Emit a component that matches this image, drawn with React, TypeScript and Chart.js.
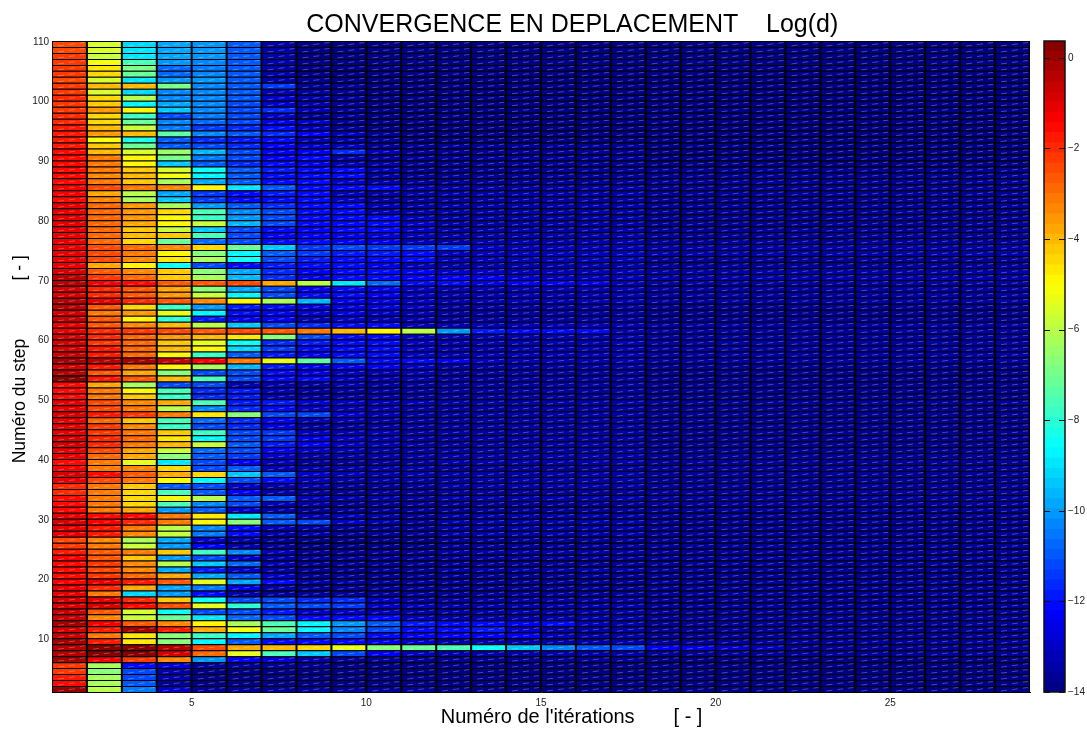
import React, { useEffect, useRef } from "react";
import { Chart, registerables } from "chart.js";

Chart.register(...registerables);

const titleText = "         CONVERGENCE EN DEPLACEMENT    Log(d)";
const xTitleText = "           Numéro de l'itérations       [ - ]";
const yTitleText = "   Numéro du step            [ - ]";
const xTickValues = [5, 10, 15, 20, 25];
const yTickValues = [10, 20, 30, 40, 50, 60, 70, 80, 90, 100, 110];
const colorTickValues = [-14, -12, -10, -8, -6, -4, -2, 0];
const iterationCount = 28;
const colorMin = -14;
const colorMax = 0.37;

// log10(d) per step, iterations 1..11
const stepsA = [
  [0, -6.1, -10.6, -13, -13.6, -13.6, -13.6, -13.6, -13.7, -13.7, -13.7],
  [-1.6, -6.2, -10.9, -13.6, -13.8, -13.8, -13.8, -13.8, -13.8, -13.8, -13.8],
  [-1.7, -6.3, -11.1, -13.5, -13.8, -13.8, -13.8, -13.8, -13.8, -13.8, -13.8],
  [-2.2, -6.8, -11.2, -13.5, -13.8, -13.8, -13.8, -13.8, -13.8, -13.8, -13.8],
  [-2.2, -6.3, -12.2, -12.8, -13.7, -13.7, -13.7, -13.7, -13.8, -13.8, -13.8],
  [-0.3, -1.4, -2.3, -3.4, -10.1, -12.3, -12.8, -13.5, -13.6, -13.6, -13.7],
  [-0.4, 0.3, 0.3, -0.8, -2.8, -5.4, -7.5, -9.4, -11.2, -12.4, -13.2],
  [-0.4, 0.3, 0.3, -0.4, -2.4, -3.7, -3.9, -4.4, -5.4, -6.8, -7.2],
  [-0.3, -1.8, -4.7, -6.6, -8.7, -11, -12.2, -12.2, -12.2, -12.5, -13],
  [-0.6, -3, -4.6, -6.6, -7.8, -8.8, -9.9, -10.9, -11.2, -12.2, -12.3],
  [-0.9, -1.8, -0.3, -1.8, -3.7, -5.2, -7.1, -8.7, -10.2, -11.2, -12],
  [-0.2, -1.4, -2.7, -3.4, -5, -6.3, -7.5, -8.7, -10.1, -10.9, -11.9],
  [-0.6, -3.4, -5.7, -7.2, -9, -10.7, -11.3, -12.2, -12.2, -12.2, -13.3],
  [-0.6, -2.7, -5.6, -8.6, -11.3, -11.3, -11.8, -13, -13, -13.3, -13.4],
  [-0.8, -0.8, -1.6, -2.5, -5.4, -8, -10.9, -11.3, -11.5, -13, -13.3],
  [-0.9, -1, -2, -4.2, -8.6, -11.1, -11.3, -11.6, -11.6, -13, -13.4],
  [-1, -3.2, -9.2, -10.1, -12.2, -13.4, -13.6, -13.6, -13.6, -13.6, -13.6],
  [-1, -1.9, -3.7, -9.8, -10.5, -12.6, -13.4, -13.6, -13.6, -13.6, -13.6],
  [-1.3, -1.1, -1.7, -2.7, -5.4, -9.8, -12.2, -13.4, -13.5, -13.6, -13.6],
  [-1.6, -2.1, -2.9, -3.7, -9.8, -10.9, -13.1, -13.7, -13.7, -13.7, -13.7],
  [-1.5, -2.4, -3.4, -9.8, -11.8, -13, -13.4, -13.7, -13.7, -13.7, -13.7],
  [-1.5, -2.3, -3.4, -6.1, -9.4, -10.7, -13.2, -13.7, -13.7, -13.7, -13.7],
  [-1.4, -2.6, -4.2, -10.1, -11.3, -13, -13.5, -13.7, -13.7, -13.7, -13.7],
  [-1.7, -2.6, -3, -4.2, -7.9, -10.4, -13.2, -13.7, -13.7, -13.7, -13.7],
  [-2.2, -3.2, -5.7, -10.1, -12.4, -13.5, -13.7, -13.8, -13.8, -13.8, -13.8],
  [-2.4, -3.4, -6.3, -9.8, -13, -13.5, -13.7, -13.8, -13.8, -13.8, -13.8],
  [-1, -1.8, -3.3, -5.7, -10.5, -12.2, -13.5, -13.5, -13.6, -13.7, -13.7],
];
const stepsB = [
  [-1, -1.7, -3, -6, -10.4, -12.2, -13.3, -13.4, -13.6, -13.7, -13.7],
  [-0.8, -1.4, -1.9, -3.2, -5, -6.8, -10.9, -11.3, -13, -13.5, -13.6],
  [-1, -1.5, -1.6, -3, -4.6, -9, -10.9, -13.2, -13.2, -13.5, -13.6],
  [-1.5, -3, -3.7, -10.1, -10.9, -13, -13.5, -13.7, -13.7, -13.7, -13.7],
  [-1.6, -3.1, -4.5, -7.5, -10.2, -11.3, -13.3, -13.5, -13.6, -13.7, -13.7],
  [-1.6, -3.2, -4.5, -4.8, -6.1, -10.9, -10.9, -13.2, -13.4, -13.5, -13.6],
  [-2, -3.2, -4.5, -7.7, -10.9, -12.4, -13.4, -13.6, -13.6, -13.6, -13.6],
  [-1.9, -3, -4.3, -10.9, -11.1, -13, -13.4, -13.5, -13.6, -13.6, -13.6],
  [-1, -2.4, -3.1, -5.2, -8.7, -11.3, -12.2, -13.2, -13.4, -13.5, -13.5],
  [-0.8, -1.5, -2.7, -3.7, -4.5, -9.4, -11, -13, -13.3, -13.4, -13.5],
  [-1.4, -3, -3.4, -4.5, -11.1, -11, -13.2, -13.4, -13.5, -13.5, -13.5],
  [-1.5, -3.2, -5.4, -9, -11.1, -12.4, -13.2, -13.6, -13.6, -13.6, -13.6],
  [-1.2, -2.8, -3.7, -6.8, -10.9, -11.5, -13, -13.4, -13.5, -13.5, -13.5],
  [-1, -2.5, -3.7, -5.7, -10.7, -11.2, -12.4, -13, -13.3, -13.4, -13.5],
  [-0.9, -2, -3, -3.9, -5.7, -11, -11.8, -12.3, -13, -13.3, -13.4],
  [-0.9, -2, -2.9, -4.7, -8.7, -11.2, -11.4, -12.6, -13, -13.3, -13.4],
  [-1.1, -2.1, -3, -4.3, -7.9, -11.2, -11.5, -13, -13.2, -13.3, -13.4],
  [-1.2, -2.3, -3.3, -7.9, -11.1, -11.6, -12.6, -13.4, -13.4, -13.4, -13.5],
  [-1.1, -2.9, -4.3, -7.7, -10.7, -11.6, -12.4, -13.2, -13.3, -13.4, -13.5],
  [-0.8, -1.7, -2.3, -3, -4.7, -6.8, -11.3, -11.3, -12.8, -13.2, -13.4],
  [-1.1, -2.5, -3.2, -6, -10.4, -11.6, -12.2, -13, -13.2, -13.3, -13.4],
  [-1.2, -2.5, -3.4, -3.8, -7.7, -11.8, -11.8, -12.8, -13, -13.2, -13.3],
  [-1.5, -3, -4.2, -7.9, -11.6, -11.8, -13.2, -13.5, -13.5, -13.5, -13.5],
  [-1.5, -3.2, -5, -7.7, -11.6, -11.8, -13.2, -13.5, -13.5, -13.5, -13.5],
  [-1.6, -3.7, -6.2, -11.3, -11.3, -13.2, -13.2, -13.5, -13.2, -13.4, -13.4],
  [0.2, -1.8, -2.7, -3.9, -7.5, -11.3, -12.2, -12.2, -13, -13.2, -13.3],
  [-0.5, -2.6, -3.7, -6.6, -11.1, -11.3, -12.2, -12.6, -13, -13.2, -13.3],
];
const stepsC = [
  [-0.8, -1.7, -3.2, -4.8, -6.2, -9.6, -11.8, -12.4, -12.3, -12.3, -13],
  [-0.3, -0.4, -0.2, -0.7, -1.4, -3.1, -5.3, -7.3, -10.9, -12.2, -12.2],
  [-0.7, -1.7, -2.8, -5, -7.9, -10.9, -11.8, -12.4, -12.2, -12.1, -13],
  [-0.8, -1.8, -2.9, -3.9, -5, -9.2, -11.5, -12.2, -12.2, -12.1, -13],
  [-0.8, -2.1, -2.8, -4.2, -5.4, -8.6, -11.6, -11.8, -12.1, -12.1, -13],
  [-0.9, -2, -2.8, -3.6, -3.9, -4.7, -6.8, -11.1, -12, -12, -13],
  [-1, -2, -2.2, -2.5, -2.7, -2.5, -2.6, -3, -4, -5, -6],
  [-1, -2.7, -3.4, -3.9, -6.1, -9.5, -11.3, -11.6, -12.2, -12.2, -13.2],
  [-0.7, -2.7, -5, -8, -11.8, -12.4, -12.3, -13.2, -13, -13.2, -13.3],
  [-0.8, -3, -3.6, -5.3, -8.8, -12.2, -12.4, -12.7, -12.5, -13, -13.2],
  [-0.4, -2.6, -4.5, -7.9, -10.1, -11.8, -12.2, -12.6, -12.5, -12.6, -13],
  [-0.5, -1.2, -1.9, -2.7, -3.4, -4.8, -6.3, -9.6, -12.4, -12.5, -13],
  [-0.8, -1.9, -2.6, -3.6, -5.7, -8.8, -11.1, -12.2, -12.2, -12.4, -13],
  [-0.9, -1.9, -2.7, -3.7, -6.6, -9.8, -11.3, -12.3, -12.2, -12.3, -13],
  [-0.4, -1.4, -1.5, -2.7, -2.6, -2.5, -3.7, -6.1, -9, -10.7, -12.2],
  [-0.5, -2.2, -2.9, -4.2, -6.3, -9.6, -11.6, -12.5, -12.2, -12.2, -12.3],
  [-0.9, -2.6, -3.3, -4.2, -6.6, -9.8, -11.6, -12.4, -12.2, -12.2, -12.4],
  [-1.1, -3.7, -5, -8.6, -11.3, -12.2, -11.8, -12.2, -12.2, -12.6, -13.2],
  [-1, -2.4, -3.3, -4.7, -6.3, -8.6, -11.3, -11.8, -12, -12.2, -12],
  [-1, -2.5, -3.2, -4.8, -6.6, -8.8, -10.9, -11.4, -11.8, -11.9, -12],
  [-1, -2.5, -2.9, -3.4, -4.4, -7.2, -9.3, -11.4, -11.3, -11.4, -11.4],
  [-1.2, -2.9, -4.5, -7.2, -10.7, -11.3, -12.2, -12.2, -12.3, -12.5, -13.2],
  [-1.2, -2.8, -4, -4.3, -7.7, -11.3, -12.3, -12.3, -12.5, -12.8, -13.3],
  [-1.2, -2.9, -4.3, -5.9, -9.4, -11.3, -12.2, -12.4, -12.2, -12.2, -13],
  [-1, -2.9, -3.8, -5, -5.9, -9.6, -11.2, -12.2, -12, -12, -13],
  [-1, -2.8, -3.6, -5, -7.9, -10.1, -11.1, -12.2, -12, -12.1, -13.2],
  [-1.1, -2.8, -3.6, -4.4, -7.5, -10.4, -11.3, -12.1, -12.2, -13.2, -13.4],
];
const stepsD = [
  [-1.2, -2.9, -3.6, -6.3, -10, -11, -11.6, -12.1, -12.2, -13.3, -13.4],
  [-1.5, -3.4, -6.3, -9.3, -11.4, -12.2, -12, -12.1, -13, -13.4, -13.5],
  [-1.4, -3.8, -6, -9.8, -11.5, -12.1, -11.8, -12.1, -13.2, -13.4, -13.5],
  [-1.4, -2.5, -3, -3.4, -5, -8.9, -11, -12.2, -12.1, -12.1, -13.2],
  [-1.6, -3.2, -4.2, -6.2, -9.9, -11, -12.2, -12.1, -13, -13.4, -13.6],
  [-1.5, -3.3, -4.1, -5.1, -8.8, -11, -12.2, -12.1, -12.2, -13.4, -13.6],
  [-1.6, -3.1, -4.2, -5.6, -8.6, -11, -11.8, -12.1, -12, -13.3, -13.6],
  [-1.5, -3, -5, -9.4, -11, -11.6, -12, -12.5, -13.2, -13.5, -13.7],
  [-1.6, -3.2, -5, -7, -10.5, -11.3, -12.4, -12.2, -13.4, -13.6, -13.7],
  [-1.5, -4, -5.5, -6.4, -9.7, -11.1, -12.3, -12.4, -11.6, -13.3, -13.7],
  [-1.7, -4.2, -7.1, -10.9, -11.2, -11.7, -12.4, -13.1, -13.2, -13.6, -13.7],
  [-1.8, -5.2, -8.2, -11, -11.6, -11.8, -12.2, -13.2, -13.5, -13.7, -13.8],
  [-1.8, -3.5, -4, -7.4, -10.4, -10.9, -11.6, -12.4, -13.2, -13.7, -13.8],
  [-1.8, -3.9, -5.8, -10.6, -11.5, -11.6, -12, -13.2, -13.7, -13.8, -13.8],
  [-2, -4.5, -7.2, -10.4, -10.7, -11.3, -12.5, -13, -13.7, -13.8, -13.8],
  [-2, -4.5, -7.9, -11.2, -10.6, -11.3, -13, -13.6, -13.7, -13.8, -13.8],
  [-2.3, -3.6, -5, -9.4, -10.3, -11.1, -11.7, -13.3, -13.7, -13.8, -13.8],
  [-2.1, -4.3, -8.7, -9.8, -10.2, -11.1, -13, -13.5, -13.7, -13.8, -13.8],
  [-2, -4.4, -6.1, -10.3, -10.4, -11, -13, -13.5, -13.7, -13.8, -13.8],
  [-2.2, -5.5, -9.2, -10.4, -10.4, -11, -13.3, -13.5, -13.7, -13.8, -13.8],
  [-2.2, -3.9, -4, -6.9, -10.3, -11, -11.5, -13.6, -13.7, -13.8, -13.8],
  [-2.4, -5.5, -9, -10, -10, -11, -13.4, -13.7, -13.8, -13.8, -13.8],
  [-2.3, -4.5, -7.1, -10.8, -10.4, -11, -13.5, -13.8, -13.8, -13.8, -13.8],
  [-2.3, -4.6, -7, -10.8, -10.5, -11, -13.5, -13.8, -13.8, -13.8, -13.8],
  [-2.2, -5.1, -7.7, -10, -10.3, -11, -13.5, -13.8, -13.8, -13.8, -13.8],
  [-2.3, -5.7, -9, -9.9, -10.1, -10.9, -13.5, -13.8, -13.8, -13.8, -13.8],
  [-2.4, -5.6, -9, -9.8, -10.1, -10.9, -13.5, -13.8, -13.8, -13.8, -13.8],
  [-2.4, -5.6, -9.2, -9.8, -10.1, -10.9, -13.5, -13.8, -13.8, -13.8, -13.8],
];

// iterations 12..17, per step
const tailNear = [
  -13.8, -13.8, -13.8, -13.8, -13.8, -13.7, -13.4, -13.4, -13.4, -13.4,
  -13.4, -13.4, -13.4, -13.5, -13.5, -13.5, -13.6, -13.6, -13.6, -13.6,
  -13.5, -13.6, -13.6, -13.5, -13.6, -13.6, -13.5, -13.5, -13.5, -13.5,
  -13.6, -13.6, -13.5, -13.6, -13.5, -13.5, -13.5, -13.6, -13.5, -13.5,
  -13.5, -13.5, -13.4, -13.5, -13.5, -13.4, -13.4, -13.4, -13.5, -13.5,
  -13.5, -13.4, -13.4, -13.4, -13.4, -13.3, -13.3, -13.3, -13.3, -13.3,
  -13.3, -13.3, -13.4, -13.4, -13.4, -13.3, -13.3, -13.3, -13.3, -13.3,
  -13.3, -13.4, -13.3, -13.3, -13.3, -13.4, -13.4, -13.4, -13.4, -13.4,
  -13.5, -13.5, -13.5, -13.5, -13.4, -13.6, -13.6, -13.6, -13.7, -13.7,
  -13.7, -13.7, -13.8, -13.8, -13.8, -13.8, -13.8, -13.8, -13.8, -13.8,
  -13.8, -13.8, -13.8, -13.8, -13.8, -13.8, -13.8, -13.8, -13.8,
];
// iterations 18..28, per step
const tailFar = [
  -13.8, -13.8, -13.8, -13.8, -13.8, -13.8, -13.7, -13.6, -13.6, -13.6,
  -13.6, -13.6, -13.6, -13.6, -13.6, -13.7, -13.7, -13.7, -13.7, -13.7,
  -13.7, -13.7, -13.7, -13.7, -13.7, -13.7, -13.7, -13.7, -13.6, -13.6,
  -13.7, -13.7, -13.6, -13.7, -13.6, -13.6, -13.6, -13.7, -13.6, -13.6,
  -13.6, -13.6, -13.6, -13.6, -13.6, -13.6, -13.6, -13.6, -13.6, -13.6,
  -13.6, -13.6, -13.6, -13.6, -13.6, -13.5, -13.5, -13.5, -13.5, -13.5,
  -13.5, -13.5, -13.6, -13.6, -13.6, -13.5, -13.5, -13.5, -13.5, -13.5,
  -13.5, -13.6, -13.6, -13.5, -13.5, -13.6, -13.6, -13.6, -13.6, -13.6,
  -13.6, -13.6, -13.6, -13.6, -13.6, -13.7, -13.7, -13.7, -13.8, -13.8,
  -13.8, -13.8, -13.8, -13.8, -13.8, -13.8, -13.8, -13.8, -13.8, -13.8,
  -13.8, -13.8, -13.8, -13.8, -13.8, -13.8, -13.8, -13.8, -13.8,
];

// steps whose residual keeps a visible trail past iteration 11 (from iteration 12)
const tailStep8 = [-7.5, -8.6, -9.4, -10.2, -10.9, -11.3, -12.3, -12.6, -13, -13.3];
const tailStep10 = [-12.4, -12.4, -12.3, -13.3];
const tailStep11 = [-12, -11.9, -13, -13.4];
const tailStep12 = [-12, -12, -12.3, -12.2, -13.2];
const tailStep56 = [-12.4, -13];
const tailStep61 = [-10, -11.8, -12, -12, -12];
const tailStep69 = [-12.2, -12.6, -12.4, -12.4, -12.5];
const tailStep70 = [-12.3, -12.6, -13];
const tailStep71 = [-13, -13];
const tailStep75 = [-11.4, -13];
const trailSteps = [8, 10, 11, 12, 56, 61, 69, 70, 71, 75];
const trailValues = [tailStep8, tailStep10, tailStep11, tailStep12, tailStep56, tailStep61, tailStep69, tailStep70, tailStep71, tailStep75];

const allSteps = [...stepsA, ...stepsB, ...stepsC, ...stepsD];

function valueAt(step: number, iter: number): number {
  const row = allSteps[step - 1];
  if (iter <= row.length) return row[iter - 1];
  const ti = trailSteps.indexOf(step);
  if (ti >= 0) {
    const v = trailValues[ti][iter - 12];
    if (v !== undefined) return v;
  }
  return iter <= 17 ? tailNear[step - 1] : tailFar[step - 1];
}

function jetColor(v: number): string {
  const level = Math.max(0, Math.min(63, Math.floor(((v - colorMin) / (colorMax - colorMin)) * 64)));
  const t = (level + 0.5) / 64;
  const c = (x: number) => Math.round(255 * Math.max(0, Math.min(1, 1.5 - Math.abs(4 * t - x))));
  return `rgb(${c(3)},${c(2)},${c(1)})`;
}

const sans = "'Liberation Sans', Arial, sans-serif";

const plotBackground = {
  id: "plotBackground",
  beforeDatasetsDraw(chart: any) {
    const { ctx, chartArea } = chart;
    ctx.save();
    ctx.fillStyle = "#000";
    ctx.fillRect(chartArea.left, chartArea.top, chartArea.width, chartArea.height);
    ctx.restore();
  },
};

const hatchPlugin = {
  id: "hatch",
  afterDatasetsDraw(chart: any) {
    const { ctx, scales } = chart;
    const xs = scales.x;
    const ys = scales.y;
    ctx.save();
    ctx.beginPath();
    ctx.rect(chart.chartArea.left, chart.chartArea.top, chart.chartArea.width, chart.chartArea.height);
    ctx.clip();
    ctx.strokeStyle = "rgba(255,255,255,0.28)";
    ctx.lineWidth = 1;
    ctx.setLineDash([6, 5]);
    ctx.beginPath();
    for (let i = 1; i <= iterationCount; i++) {
      const x0 = xs.getPixelForValue(i);
      const x1 = xs.getPixelForValue(i + 1);
      for (let s = 1; s <= allSteps.length; s++) {
        const yb = ys.getPixelForValue(s);
        const yt = ys.getPixelForValue(s + 1);
        ctx.moveTo(x0 + 6, yb - 1);
        ctx.lineTo(x1 - 2, yt + 1.5);
      }
    }
    ctx.stroke();
    ctx.restore();
  },
};

const colorbarPlugin = {
  id: "colorbarFrame",
  afterDatasetsDraw(chart: any) {
    const { ctx, chartArea, scales } = chart;
    ctx.save();
    ctx.strokeStyle = "#111";
    ctx.lineWidth = 1.5;
    ctx.strokeRect(chartArea.left, chartArea.top, chartArea.width, chartArea.height);
    ctx.lineWidth = 1;
    ctx.beginPath();
    for (const v of colorTickValues) {
      const y = Math.round(scales.y.getPixelForValue(v)) + 0.5;
      ctx.moveTo(chartArea.left, y);
      ctx.lineTo(chartArea.left + 6, y);
      ctx.moveTo(chartArea.right - 6, y);
      ctx.lineTo(chartArea.right, y);
    }
    ctx.stroke();
    ctx.restore();
  },
};

export default function App() {
  const mainRef = useRef<HTMLCanvasElement>(null);
  const barRef = useRef<HTMLCanvasElement>(null);

  useEffect(() => {
    const datasets: any[] = [];
    for (let i = 1; i <= iterationCount; i++) {
      const data = allSteps.map((_, idx) => ({ x: [i, i + 1], y: idx + 1.5 }));
      const colors = allSteps.map((_, idx) => jetColor(valueAt(idx + 1, i)));
      datasets.push({
        label: `Iter ${i}`,
        data,
        backgroundColor: colors,
        borderColor: "#000",
        borderWidth: { left: 1, right: 1, top: 1, bottom: 0 },
        borderSkipped: false,
        inflateAmount: 0,
        barPercentage: 1,
        categoryPercentage: 1,
      });
    }
    const main = new Chart(mainRef.current as HTMLCanvasElement, {
      type: "bar",
      data: { datasets },
      plugins: [plotBackground, hatchPlugin],
      options: {
        indexAxis: "y",
        animation: false,
        responsive: false,
        devicePixelRatio: 1,
        events: [],
        grouped: false,
        layout: { padding: { left: 0, right: 57, top: 0, bottom: 0 } },
        plugins: {
          legend: { display: false },
          tooltip: { enabled: false },
          title: {
            display: true,
            text: titleText,
            fullSize: false,
            color: "#000",
            font: { family: sans, size: 25, weight: "normal", lineHeight: 1.2 },
            padding: { top: 10, bottom: 1 },
          },
        },
        scales: {
          x: {
            type: "linear",
            min: 1,
            max: 29,
            offset: false,
            grid: { display: false, drawTicks: false },
            border: { display: true, color: "#000" },
            afterBuildTicks: (s: any) => { s.ticks = xTickValues.map((value) => ({ value })); },
            afterFit: (s: any) => { s.height = 39; },
            ticks: { padding: 5, color: "#222", font: { family: sans, size: 10 }, maxRotation: 0, autoSkip: false },
            title: {
              display: true,
              text: xTitleText,
              color: "#000",
              font: { family: sans, size: 20, weight: "normal", lineHeight: 1.2 },
              padding: { top: 0, bottom: 2 },
            },
          },
          y: {
            type: "linear",
            min: 1,
            max: 110,
            offset: false,
            grid: { display: false, drawTicks: false },
            border: { display: true, color: "#000" },
            afterBuildTicks: (s: any) => { s.ticks = yTickValues.map((value) => ({ value })); },
            afterFit: (s: any) => { s.width = 52; },
            ticks: { padding: 3, color: "#222", font: { family: sans, size: 10 }, autoSkip: false, labelOffset: 1 },
            title: {
              display: true,
              text: yTitleText,
              color: "#000",
              font: { family: sans, size: 17.5, weight: "normal", lineHeight: 1.2 },
              padding: { top: 9.5, bottom: 0 },
            },
          },
        },
      } as any,
    });

    const levels: number[] = [];
    for (let l = 0; l < 64; l++) levels.push(l);
    const band = (colorMax - colorMin) / 64;
    const cbDatasets = levels.map((l) => ({
      label: `L${l}`,
      data: [{ x: "c", y: [colorMin + l * band, colorMin + (l + 1) * band] }],
      backgroundColor: jetColor(colorMin + (l + 0.5) * band),
      borderWidth: 0,
      inflateAmount: 0.4,
      barPercentage: 1,
      categoryPercentage: 1,
    }));
    const bar = new Chart(barRef.current as HTMLCanvasElement, {
      type: "bar",
      data: { labels: ["c"], datasets: cbDatasets },
      plugins: [colorbarPlugin],
      options: {
        animation: false,
        responsive: false,
        devicePixelRatio: 1,
        events: [],
        grouped: false,
        layout: { padding: { left: 44, right: 0, top: 41, bottom: 39 } },
        plugins: { legend: { display: false }, tooltip: { enabled: false }, title: { display: false } },
        scales: {
          x: { display: false, type: "category" },
          y: {
            type: "linear",
            position: "right",
            min: colorMin,
            max: colorMax,
            grid: { display: false, drawTicks: false },
            border: { display: false },
            afterBuildTicks: (s: any) => { s.ticks = colorTickValues.map((value) => ({ value })); },
            afterFit: (s: any) => { s.width = 22; },
            ticks: {
              padding: 3,
              color: "#222",
              font: { family: sans, size: 10 },
              autoSkip: false,
              callback: (v: any) => (Number(v) < 0 ? "\u2212" + Math.abs(Number(v)) : String(v)),
            },
          },
        },
      } as any,
    });

    return () => {
      main.destroy();
      bar.destroy();
    };
  }, []);

  return (
    <div style={{ position: "absolute", left: 0, top: 0, width: 1087, height: 731, background: "#fff", overflow: "hidden" }}>
      <canvas ref={mainRef} width={1087} height={731} style={{ position: "absolute", left: 0, top: 0, display: "block" }} />
      <canvas ref={barRef} width={87} height={731} style={{ position: "absolute", left: 1000, top: 0, display: "block" }} />
    </div>
  );
}
